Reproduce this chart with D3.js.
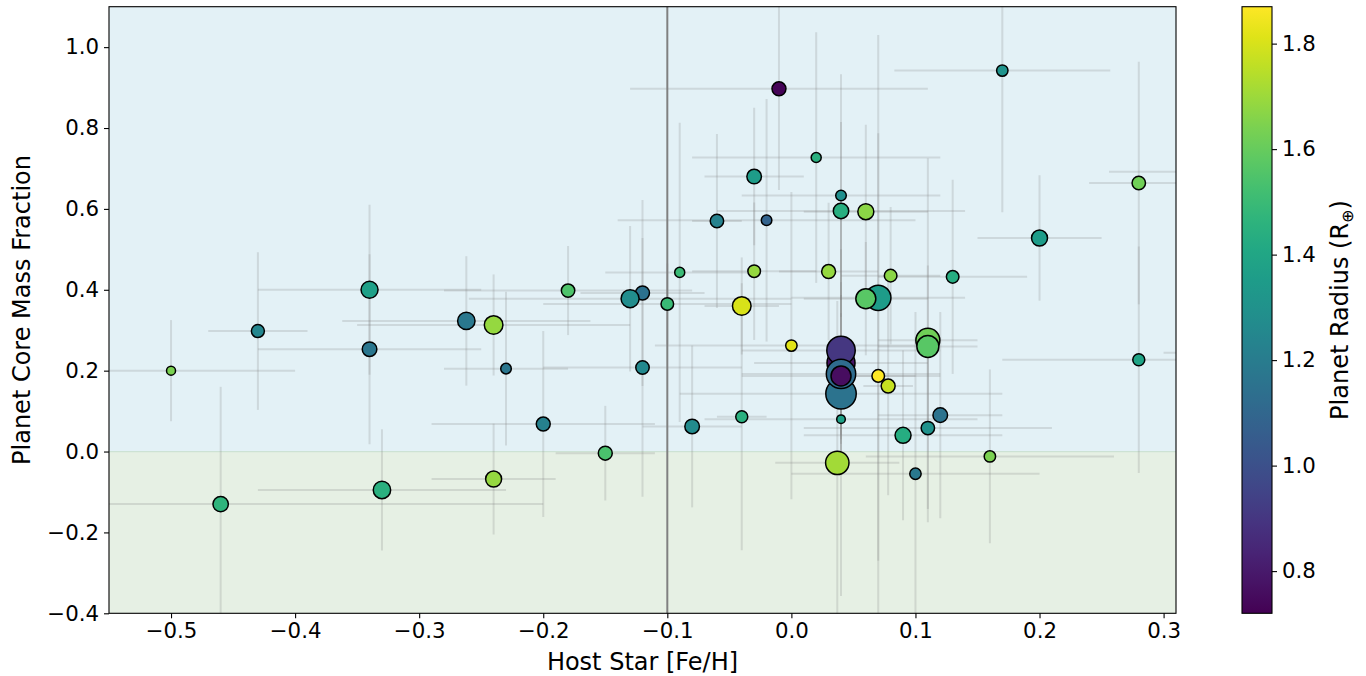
<!DOCTYPE html>
<html>
<head>
<meta charset="utf-8">
<script src="https://d3js.org/d3.v7.min.js"></script>
<style>
  body { margin: 0; background: #fff; }
  text { font-family: "DejaVu Sans", sans-serif; fill: #000; }
</style>
</head>
<body>
<svg id="chart" width="1366" height="676"></svg>
<script>
// host star metallicity [Fe/H] and its error
var feh    = [-0.50,-0.43,-0.34,-0.34,-0.46,-0.33,-0.24,-0.24,-0.262,-0.23,-0.20,-0.18,-0.15,-0.12,-0.13,-0.12,-0.10,-0.09,-0.08,-0.06,-0.03,-0.02,-0.01,-0.03,-0.04,-0.04,0.00,0.02,0.03,0.04,0.04,0.06,0.08,0.13,0.07,0.06,0.17,0.28,0.20,0.28,0.04,0.04,0.04,0.04,0.04,0.04,0.07,0.078,0.11,0.11,0.12,0.11,0.09,0.16,0.10,0.037,0.35,0.35];
var fehErr = [0.10,0.04,0.09,0.09,0.26,0.10,0.05,0.11,0.10,0.05,0.09,0.10,0.04,0.05,0.13,0.08,0.10,0.06,0.04,0.02,0.04,0.12,0.12,0.05,0.03,0.02,0.11,0.10,0.04,0.08,0.10,0.05,0.04,0.06,0.07,0.05,0.087,0.04,0.05,0.11,0.07,0.08,0.13,0.08,0.08,0.11,0.03,0.02,0.04,0.04,0.05,0.10,0.08,0.10,0.10,0.05,0.094,0.05];
// planet core mass fraction and its error
var cmf    = [0.200,0.298,0.400,0.253,-0.130,-0.095,-0.068,0.313,0.323,0.205,0.068,0.398,-0.004,0.392,0.378,0.208,0.365,0.443,0.062,0.570,0.680,0.572,0.897,0.446,0.360,0.086,0.262,0.727,0.445,0.633,0.595,0.593,0.435,0.432,0.380,0.378,0.942,0.664,0.528,0.227,0.219,0.250,0.143,0.192,0.187,0.080,0.187,0.162,0.275,0.260,0.090,0.058,0.040,-0.012,-0.055,-0.028,0.692,0.244];
var cmfErr = [0.125,0.195,0.21,0.235,0.29,0.15,0.137,0.125,0.16,0.19,0.23,0.11,0.117,0.23,0.18,0.32,0.10,0.37,0.20,0.215,0.17,0.30,0.25,0.17,0.12,0.33,0.38,0.31,0.17,0.30,0.22,0.215,0.17,0.24,0.65,0.14,0.35,0.30,0.155,0.28,0.20,0.25,0.50,0.15,0.20,0.05,0.60,0.27,0.45,0.20,0.255,0.20,0.21,0.215,0.40,0.40,0.10,0.10];
// planet radius (R_earth) -> colour, planet mass (M_earth) -> marker area
var planetRadius = [1.64,1.25,1.37,1.17,1.47,1.45,1.69,1.69,1.18,1.17,1.22,1.55,1.54,1.15,1.28,1.26,1.50,1.50,1.27,1.23,1.35,1.08,0.73,1.69,1.80,1.45,1.82,1.45,1.69,1.29,1.44,1.67,1.67,1.43,1.35,1.57,1.31,1.62,1.35,1.39,0.78,0.90,1.16,1.12,0.76,1.38,1.87,1.77,1.62,1.57,1.16,1.30,1.43,1.64,1.18,1.71,1.30,1.30];
var planetMass   = [2.25,4.7,8.0,5.9,6.6,8.4,7.1,9.6,8.4,3.1,5.4,5.0,5.4,5.4,9.0,5.0,4.4,2.8,5.9,5.0,5.9,3.1,5.4,4.4,9.6,4.0,3.6,2.8,5.4,3.1,6.6,7.1,4.4,4.4,17.9,11.1,3.6,5.0,7.1,4.0,21.8,22.4,25.7,24.0,11.1,2.05,4.4,5.4,16.0,13.4,5.9,5.0,7.1,3.6,3.6,15.2,5.0,5.0];

var xTicks = [-0.5,-0.4,-0.3,-0.2,-0.1,0.0,0.1,0.2,0.3];
var yTicks = [-0.4,-0.2,0.0,0.2,0.4,0.6,0.8,1.0];
var cTicks = [0.8,1.0,1.2,1.4,1.6,1.8];
var fehCut = -0.1;

var planets = feh.map(function(d, i) {
  return {feh: d, fehErr: fehErr[i], cmf: cmf[i], cmfErr: cmfErr[i],
          rad: planetRadius[i], mass: planetMass[i]};
});

var svg = d3.select('#chart');
var pLeft = 109, pRight = 1176, pTop = 6.7, pBottom = 613.3;
var tickFont = 21.3, labelFont = 24;

var x = d3.scaleLinear().domain([-0.55, 0.31]).range([pLeft, pRight]);
var y = d3.scaleLinear().domain([-0.4, 1.1]).range([pBottom, pTop]);
var color = d3.scaleSequential(d3.interpolateViridis).domain([0.72, 1.87]);
var size = d3.scaleSqrt().domain([0, 1]).range([0, 3]);
var fmt = function(v) { return d3.format('.1f')(v).replace('-', '\u2212'); };

var defs = svg.append('defs');
defs.append('clipPath').attr('id', 'plotclip')
  .append('rect').attr('x', pLeft).attr('y', pTop)
  .attr('width', pRight - pLeft).attr('height', pBottom - pTop);

var plot = svg.append('g').attr('clip-path', 'url(#plotclip)');

// shaded regions
plot.append('rect')
  .attr('x', pLeft).attr('width', pRight - pLeft)
  .attr('y', y(1.1)).attr('height', y(0) - y(1.1))
  .attr('fill', '#e3f1f6');
plot.append('rect')
  .attr('x', pLeft).attr('width', pRight - pLeft)
  .attr('y', y(0)).attr('height', y(-0.4) - y(0))
  .attr('fill', '#e6f0e4');
plot.append('line')
  .attr('x1', pLeft).attr('x2', pRight)
  .attr('y1', y(0)).attr('y2', y(0))
  .attr('stroke', '#cde2d4').attr('stroke-width', 1.2);

// error bars
var eb = plot.append('g').attr('stroke', '#808080').attr('stroke-opacity', 0.22).attr('stroke-width', 2);
eb.selectAll('line.xe').data(planets).enter().append('line')
  .attr('class', 'xe')
  .attr('x1', function(d) { return x(d.feh - d.fehErr); })
  .attr('x2', function(d) { return x(d.feh + d.fehErr); })
  .attr('y1', function(d) { return y(d.cmf); })
  .attr('y2', function(d) { return y(d.cmf); });
eb.selectAll('line.ye').data(planets).enter().append('line')
  .attr('class', 'ye')
  .attr('x1', function(d) { return x(d.feh); })
  .attr('x2', function(d) { return x(d.feh); })
  .attr('y1', function(d) { return y(d.cmf - d.cmfErr); })
  .attr('y2', function(d) { return y(d.cmf + d.cmfErr); });

// metallicity cut
plot.append('line')
  .attr('x1', x(fehCut)).attr('x2', x(fehCut))
  .attr('y1', pTop).attr('y2', pBottom)
  .attr('stroke', '#808080').attr('stroke-width', 2);

// planets
plot.selectAll('circle').data(planets).enter().append('circle')
  .attr('cx', function(d) { return x(d.feh); })
  .attr('cy', function(d) { return y(d.cmf); })
  .attr('r', function(d) { return size(d.mass); })
  .attr('fill', function(d) { return color(d.rad); })
  .attr('stroke', '#000').attr('stroke-width', 1.5);

// axes
var xAxis = svg.append('g').attr('transform', 'translate(0,' + pBottom + ')')
  .call(d3.axisBottom(x).tickValues(xTicks).tickFormat(fmt).tickSize(5).tickPadding(5));
var yAxis = svg.append('g').attr('transform', 'translate(' + pLeft + ',0)')
  .call(d3.axisLeft(y).tickValues(yTicks).tickFormat(fmt).tickSize(5).tickPadding(5));
[xAxis, yAxis].forEach(function(a) {
  a.select('.domain').remove();
  a.selectAll('text').attr('font-size', tickFont).attr('font-family', '"DejaVu Sans", sans-serif');
  a.selectAll('line').attr('stroke', '#000').attr('stroke-width', 1.1);
});
svg.append('rect')
  .attr('x', pLeft).attr('y', pTop).attr('width', pRight - pLeft).attr('height', pBottom - pTop)
  .attr('fill', 'none').attr('stroke', '#000').attr('stroke-width', 1.1);

svg.append('text')
  .attr('x', (pLeft + pRight) / 2).attr('y', 670)
  .attr('text-anchor', 'middle').attr('font-size', labelFont)
  .text('Host Star [Fe/H]');
svg.append('text')
  .attr('transform', 'translate(30,' + (pTop + pBottom) / 2 + ') rotate(-90)')
  .attr('text-anchor', 'middle').attr('font-size', labelFont)
  .text('Planet Core Mass Fraction');

// colorbar
var cbX = 1242, cbW = 30;
var c = d3.scaleLinear().domain([0.72, 1.87]).range([pBottom, pTop]);
var grad = defs.append('linearGradient').attr('id', 'viridis')
  .attr('x1', 0).attr('y1', 1).attr('x2', 0).attr('y2', 0);
grad.selectAll('stop').data(d3.range(0, 1.0001, 0.05)).enter().append('stop')
  .attr('offset', function(t) { return t; })
  .attr('stop-color', function(t) { return d3.interpolateViridis(t); });
svg.append('rect')
  .attr('x', cbX).attr('y', pTop).attr('width', cbW).attr('height', pBottom - pTop)
  .attr('fill', 'url(#viridis)').attr('stroke', '#000').attr('stroke-width', 1.1);
var cAxis = svg.append('g').attr('transform', 'translate(' + (cbX + cbW) + ',0)')
  .call(d3.axisRight(c).tickValues(cTicks).tickFormat(fmt).tickSize(5).tickPadding(5));
cAxis.select('.domain').remove();
cAxis.selectAll('text').attr('font-size', tickFont).attr('font-family', '"DejaVu Sans", sans-serif');
cAxis.selectAll('line').attr('stroke', '#000').attr('stroke-width', 1.1);

var cl = svg.append('text')
  .attr('transform', 'translate(1348,' + (pTop + pBottom) / 2 + ') rotate(-90)')
  .attr('text-anchor', 'middle').attr('font-size', labelFont);
cl.append('tspan').text('Planet Radius (R');
cl.append('tspan').attr('font-size', 16).attr('dy', 5).text('\u2295');
cl.append('tspan').attr('dy', -5).text(')');
</script>
</body>
</html>
